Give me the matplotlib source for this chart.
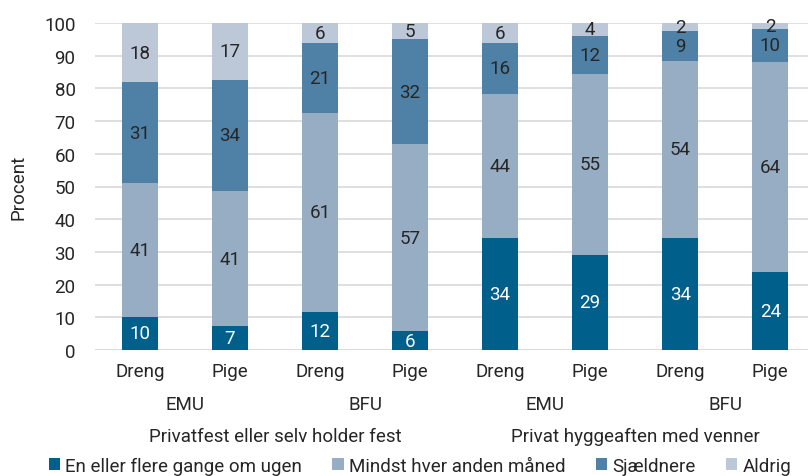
import matplotlib.pyplot as plt
import matplotlib.transforms as mtransforms
from matplotlib.patches import Patch
import numpy as np

plt.rcParams['font.family'] = ['Roboto', 'DejaVu Sans']

# data
gender = ["Dreng", "Pige", "Dreng", "Pige", "Dreng", "Pige", "Dreng", "Pige"]
school = ["EMU", "BFU", "EMU", "BFU"]
groups = ["Privatfest eller selv holder fest", "Privat hyggeaften med venner"]
series = ["En eller flere gange om ugen", "Mindst hver anden måned", "Sjældnere", "Aldrig"]
weekly = [10.2, 7.2, 11.6, 5.8, 34.2, 29.1, 34.3, 24.0]
monthly = [40.9, 41.4, 60.9, 57.2, 44.2, 55.3, 54.1, 64.2]
rarely = [30.8, 34.0, 21.3, 32.1, 15.6, 11.7, 9.2, 10.1]
never = [18.1, 17.4, 6.2, 4.9, 6.0, 3.9, 2.4, 1.7]

colors = ["#005f8b", "#97adc4", "#4f80a6", "#bcc8d8"]
text_colors = ["white", "#262626", "#262626", "#262626"]
TXT = "#262626"
FS = 13.5

fig = plt.figure(figsize=(8.08, 4.77), dpi=100)
ax = fig.add_axes([95 / 808, 1 - 351 / 477, 713 / 808, 327 / 477])

x = np.arange(len(gender))
bottom = np.zeros(len(gender))
for vals, col, tcol in zip([weekly, monthly, rarely, never], colors, text_colors):
    vals = np.array(vals, dtype=float)
    ax.bar(x, vals, width=0.4, bottom=bottom, color=col, zorder=3)
    for xi, b, v in zip(x, bottom, vals):
        ax.text(xi, b + v / 2, f"{v:.0f}", ha='center', va='center',
                color=tcol, fontsize=FS, zorder=4)
    bottom += vals

ax.set_ylim(0, 100)
ax.set_xlim(-0.5, 7.42)
ax.set_yticks(range(0, 101, 10))
ax.yaxis.grid(True, color="#d9d9d9", linewidth=1.2, zorder=0)
ax.set_axisbelow(True)
for s in ax.spines.values():
    s.set_visible(False)
ax.tick_params(axis='y', length=0, pad=14, labelsize=FS, labelcolor=TXT)
ax.set_xticks(x)
ax.set_xticklabels(gender)
ax.tick_params(axis='x', length=0, pad=9, labelsize=FS, labelcolor=TXT)
ax.axhline(0, color="#d9d9d9", linewidth=1.2, zorder=2)
ax.set_ylabel("Procent", fontsize=FS, color=TXT, labelpad=12)

# multi-level category labels
trans = mtransforms.blended_transform_factory(ax.transData, fig.transFigure)
for i, s in enumerate(school):
    ax.text(2 * i + 0.5, 1 - 405 / 477, s, transform=trans, ha='center', va='center',
            fontsize=FS, color=TXT)
for i, g in enumerate(groups):
    ax.text(4 * i + 1.5, 1 - 437 / 477, g, transform=trans, ha='center', va='center',
            fontsize=FS, color=TXT)

handles = [Patch(facecolor=c, edgecolor='none') for c in colors]
fig.legend(handles, series, loc='center', bbox_to_anchor=(0.52, 1 - 467 / 477), ncol=4,
           frameon=False, fontsize=FS, handlelength=0.6, handleheight=0.6,
           handletextpad=0.3, columnspacing=1.6, labelcolor=TXT)

fig.savefig("out.png", dpi=100)
